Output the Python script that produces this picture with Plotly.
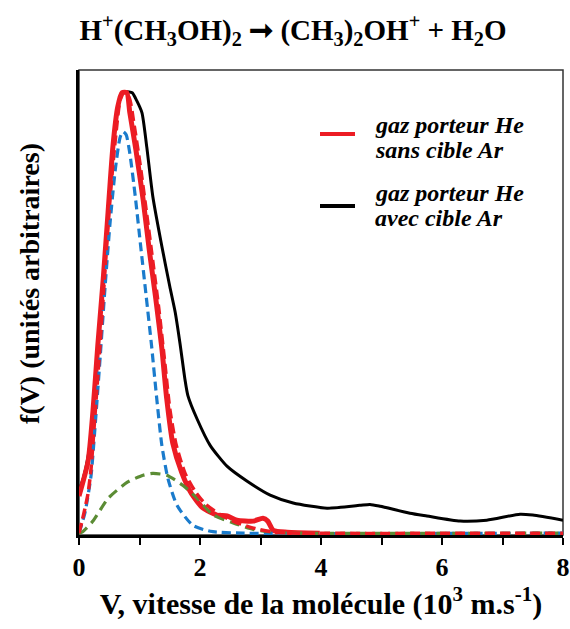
import plotly.graph_objects as go

# ---- data (V in 10^3 m/s, f(V) in arbitrary units) ----
v_black = [0.00, 0.07, 0.15, 0.23, 0.31, 0.40, 0.48, 0.56, 0.64, 0.71, 0.78, 0.88, 0.95,
           1.04, 1.12, 1.22, 1.37, 1.50, 1.59, 1.67, 1.75, 1.80, 1.95, 2.17, 2.45, 2.78,
           3.16, 3.54, 4.10, 4.64, 4.81, 4.98, 5.47, 5.75, 6.30, 6.74, 7.29, 7.50, 8.00]
f_black = [9.2, 11.8, 16.5, 25.0, 40.0, 55.0, 69.5, 83.5, 92.0, 94.8, 95.3, 95.1, 93.5,
           90.8, 83.4, 72.7, 61.9, 53.3, 47.7, 40.9, 33.3, 29.7, 24.7, 18.9, 14.4, 11.2,
           8.2, 6.5, 5.4, 6.0, 6.2, 5.8, 4.3, 3.7, 2.6, 2.8, 4.1, 3.9, 2.8]

v_red = [0.00, 0.15, 0.23, 0.31, 0.40, 0.48, 0.56, 0.64, 0.71, 0.79, 0.84, 0.94, 1.06,
         1.16, 1.27, 1.37, 1.45, 1.55, 1.70, 1.86, 2.05, 2.28, 2.45, 2.61, 2.88, 3.04,
         3.12, 3.21, 3.44, 3.98]
f_red = [8.0, 15.5, 26.2, 40.4, 54.8, 69.2, 83.4, 92.0, 95.1, 95.1, 90.8, 82.8, 72.0,
         61.3, 50.5, 39.8, 29.0, 19.4, 13.0, 8.5, 5.4, 3.9, 3.7, 2.8, 2.6, 3.2,
         2.6, 0.6, 0.2, 0.0]

v_fit = [0.00, 0.05, 0.10, 0.15, 0.20, 0.26, 0.35, 0.43, 0.51, 0.60, 0.68, 0.74, 0.83,
         0.91, 1.01, 1.12, 1.22, 1.32, 1.42, 1.50, 1.60, 1.75, 1.92, 2.08, 2.33, 2.58,
         2.91, 3.24, 3.65, 8.00]
f_fit = [0.0, 2.6, 5.4, 8.6, 14.0, 24.7, 40.9, 57.0, 72.0, 84.9, 93.5, 95.1, 94.0,
         88.2, 79.6, 68.8, 58.7, 48.4, 36.6, 26.9, 19.4, 13.0, 9.0, 6.4, 4.0, 2.4,
         1.0, 0.2, 0.0, 0.0]

v_blue = [0.00, 0.10, 0.20, 0.26, 0.35, 0.43, 0.51, 0.60, 0.68, 0.73, 0.78, 0.84, 0.93,
          1.02, 1.11, 1.20, 1.28, 1.37, 1.47, 1.62, 1.88, 2.17, 2.71, 8.00]
f_blue = [0.0, 4.5, 12.5, 22.0, 38.0, 53.0, 66.5, 78.5, 85.5, 86.7, 86.0, 82.0, 72.7,
          61.9, 51.2, 40.4, 29.7, 18.9, 11.8, 6.0, 1.7, 0.4, 0.0, 0.0]

v_green = [0.00, 0.05, 0.23, 0.48, 0.80, 1.06, 1.22, 1.45, 1.72, 1.97, 2.21, 2.55,
           2.88, 3.21, 3.65, 8.00]
f_green = [0.0, 0.2, 2.6, 7.5, 11.0, 12.5, 12.9, 12.5, 10.3, 7.3, 4.0, 2.2,
           0.8, 0.2, 0.0, 0.0]

x_ticks = [0, 1, 2, 3, 4, 5, 6, 7, 8]
x_ticktext = ["0", "", "2", "", "4", "", "6", "", "8"]

legend_lines = [["gaz porteur He", "sans cible Ar"], ["gaz porteur He", "avec cible Ar"]]

RED = "#ec1c24"
BLUE = "#1a7bcc"
GREEN = "#5b8c34"
SERIF = "Liberation Serif"

fig = go.Figure()
fig.add_trace(go.Scatter(x=v_black, y=f_black, mode="lines",
                         line=dict(color="black", width=3, shape="spline", smoothing=0.6)))
fig.add_trace(go.Scatter(x=v_red, y=f_red, mode="lines",
                         line=dict(color=RED, width=5, shape="spline", smoothing=0.6)))
fig.add_trace(go.Scatter(x=v_blue, y=f_blue, mode="lines",
                         line=dict(color=BLUE, width=3.2, dash="9px,5px", shape="spline", smoothing=0.6)))
fig.add_trace(go.Scatter(x=v_green, y=f_green, mode="lines",
                         line=dict(color=GREEN, width=3.2, dash="10px,6px", shape="spline", smoothing=0.6)))
fig.add_trace(go.Scatter(x=v_fit, y=f_fit, mode="lines",
                         line=dict(color=RED, width=3.5, dash="10px,5px", shape="spline", smoothing=0.6)))

L, R, T, B = 79, 7, 70, 94
W, H = 570, 629
pw, ph = W - L - R, H - T - B

def px_x(px):
    return (px - L) / pw

def px_y(py):
    return (H - B - py) / ph

fig.update_layout(
    width=W, height=H,
    margin=dict(l=L, r=R, t=T, b=B, autoexpand=False),
    paper_bgcolor="white", plot_bgcolor="white",
    showlegend=False, hovermode=False,
    title=dict(
        text="H<sup>+</sup>(CH<sub>3</sub>OH)<sub>2</sub> ➞ (CH<sub>3</sub>)<sub>2</sub>OH<sup>+</sup> + H<sub>2</sub>O",
        x=293 / W, xanchor="center", y=1 - 30 / H, yanchor="middle",
        font=dict(family=SERIF, size=29, color="black", weight="bold"),
    ),
    xaxis=dict(
        range=[0, 8], tickvals=x_ticks, ticktext=x_ticktext,
        ticks="outside", ticklen=7, tickwidth=2, tickcolor="black",
        showline=True, linewidth=2.5, linecolor="black",
        showgrid=False, zeroline=False, layer="below traces", automargin=False,
        tickfont=dict(family=SERIF, size=26, color="black", weight="bold"),
        title=dict(text="V, vitesse de la molécule (10<sup>3</sup> m.s<sup>-1</sup>)",
                   font=dict(family=SERIF, size=30, color="black", weight="bold"),
                   standoff=6),
    ),
    yaxis=dict(
        range=[-0.4, 100], showticklabels=False, ticks="",
        showline=True, linewidth=2.5, linecolor="black", automargin=False,
        showgrid=False, zeroline=False, layer="below traces",
    ),
)

# plot frame (top and right borders)
fig.add_shape(type="rect", xref="paper", yref="paper", x0=0, x1=1, y0=0, y1=1,
              line=dict(color="#333333", width=1.5), layer="below")

# y-axis title
fig.add_annotation(text="f(V) (unités arbitraires)", xref="paper", yref="paper",
                   x=px_x(29), y=px_y(284), textangle=-90, showarrow=False,
                   xanchor="center", yanchor="middle",
                   font=dict(family=SERIF, size=28, color="black", weight="bold"))

# legend (line samples + labels)
for color, lines, yl, ys in [(RED, legend_lines[0], 134, (125, 150)),
                             ("black", legend_lines[1], 206, (193, 218))]:
    fig.add_shape(type="line", xref="paper", yref="paper",
                  x0=px_x(320), x1=px_x(355), y0=px_y(yl), y1=px_y(yl),
                  line=dict(color=color, width=4))
    for txt, yt in zip(lines, ys):
        fig.add_annotation(text=txt, xref="paper", yref="paper",
                           x=px_x(373), y=px_y(yt), xanchor="left", yanchor="middle",
                           align="left", showarrow=False,
                           font=dict(family=SERIF, size=24, color="black",
                                     weight="bold", style="italic"))

fig.write_html("out.html",
               config={"displayModeBar": False},
               post_script="document.body.style.margin='0px';document.body.style.overflow='hidden';")
